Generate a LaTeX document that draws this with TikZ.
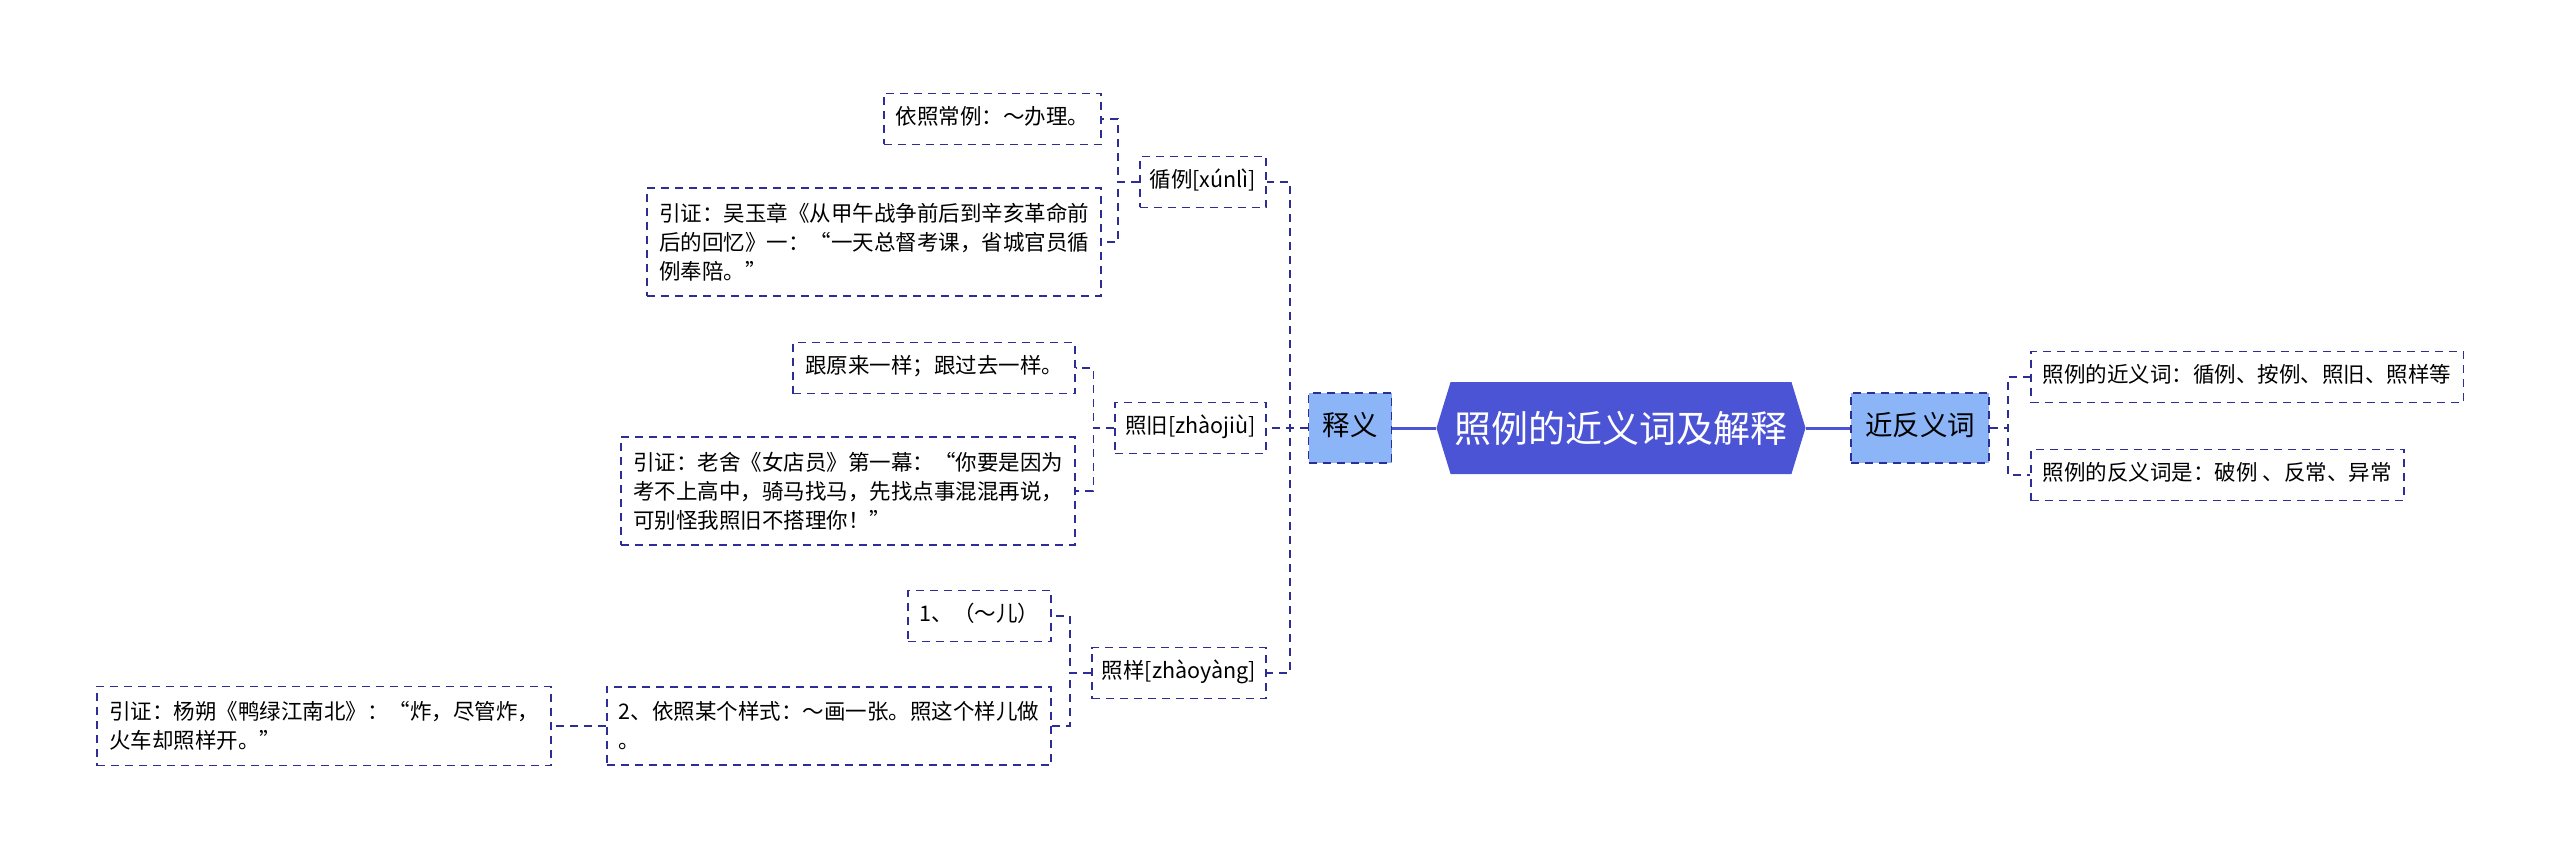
\documentclass[tikz,border=0pt]{standalone}
\usepackage{fontspec}
\setmainfont{Noto Sans CJK SC}
\usetikzlibrary{shapes.symbols}
\definecolor{hexblue}{RGB}{76,84,214}
\definecolor{lightblue}{RGB}{140,181,248}
\definecolor{edgeblue}{RGB}{45,45,150}
\begin{document}
\begin{tikzpicture}[x=1pt, y=-1pt,
          leaf/.style={draw=edgeblue, line width=1.8pt, dash pattern=on 8pt off 6pt, fill=white, align=left,
                       font=\fontsize{21.5}{29}\selectfont, text height=16pt, text depth=5pt, inner xsep=12pt, inner ysep=15pt},
          multi/.style={text height={}, text depth={}},
          sub/.style={leaf, inner xsep=10pt},
          main/.style={draw=edgeblue, line width=1.8pt, dash pattern=on 8pt off 6pt, fill=lightblue,
                       font=\fontsize{27.5}{33}\selectfont, text height=20pt, text depth=6pt, inner xsep=14pt, inner ysep=22pt},
          title/.style={signal, signal to=east and west, signal pointer angle=146, fill=hexblue, text=white,
                        font=\fontsize{37}{44}\selectfont, minimum width=369pt, minimum height=92pt, inner sep=0pt},
          conn/.style={draw=edgeblue, line width=1.8pt, dash pattern=on 8pt off 6pt},
          trunk/.style={draw=hexblue, line width=3pt}]
        \useasboundingbox (0,0) rectangle (2560,861);
        % centre and first level
        \node[title] (root) at (1621,428) {照例的近义词及解释};
        \node[main] (shiyi) at (1350,428) {释义};
        \node[main] (jinfan) at (1920,428) {近反义词};
        \draw[trunk] (root.west) -- (shiyi.east);
        \draw[trunk] (root.east) -- (jinfan.west);
        % right side
        \node[leaf, anchor=west] (jin) at (2030,377) {照例的近义词：循例、按例、照旧、照样等};
        \node[leaf, anchor=west] (fan) at (2030,475) {照例的反义词是：破例 、反常、异常};
        \foreach \c in {jin,fan}
          \draw[conn] (jinfan.east) -- ++(18,0) |- (\c.west);
        % left side, second level
        \node[sub, anchor=east] (xunli) at (1267,182) {循例[xúnlì]};
        \node[sub, anchor=east] (zhaojiu) at (1267,428) {照旧[zhàojiù]};
        \node[sub, anchor=east] (zhaoyang) at (1267,673) {照样[zhàoyàng]};
        \foreach \c in {xunli,zhaojiu,zhaoyang}
          \draw[conn] (shiyi.west) -- ++(-18,0) |- (\c.east);
        % leaves
        \node[leaf, anchor=east] (xl1) at (1102,119) {依照常例：～办理。};
        \node[leaf, multi, anchor=east] (xl2) at (1102,242) {引证：吴玉章《从甲午战争前后到辛亥革命前\\后的回忆》一：“一天总督考课，省城官员循\\例奉陪。”};
        \node[leaf, anchor=east] (zj1) at (1076,368) {跟原来一样；跟过去一样。};
        \node[leaf, multi, anchor=east] (zj2) at (1076,491) {引证：老舍《女店员》第一幕：“你要是因为\\考不上高中，骑马找马，先找点事混混再说，\\可别怪我照旧不搭理你！”};
        \node[leaf, anchor=east] (zy1) at (1052,616) {1、（～儿）};
        \node[leaf, multi, anchor=east] (zy2) at (1052,726) {2、依照某个样式：～画一张。照这个样儿做\\。};
        \node[leaf, multi, anchor=east] (zy3) at (552,726) {引证：杨朔《鸭绿江南北》：“炸，尽管炸，\\火车却照样开。”};
        \foreach \c in {xl1,xl2}
          \draw[conn] (xunli.west) -- ++(-21,0) |- (\c.east);
        \foreach \c in {zj1,zj2}
          \draw[conn] (zhaojiu.west) -- ++(-21,0) |- (\c.east);
        \foreach \c in {zy1,zy2}
          \draw[conn] (zhaoyang.west) -- ++(-21,0) |- (\c.east);
        \draw[conn] (zy2.west) -- (zy3.east);
\end{tikzpicture}
\end{document}
